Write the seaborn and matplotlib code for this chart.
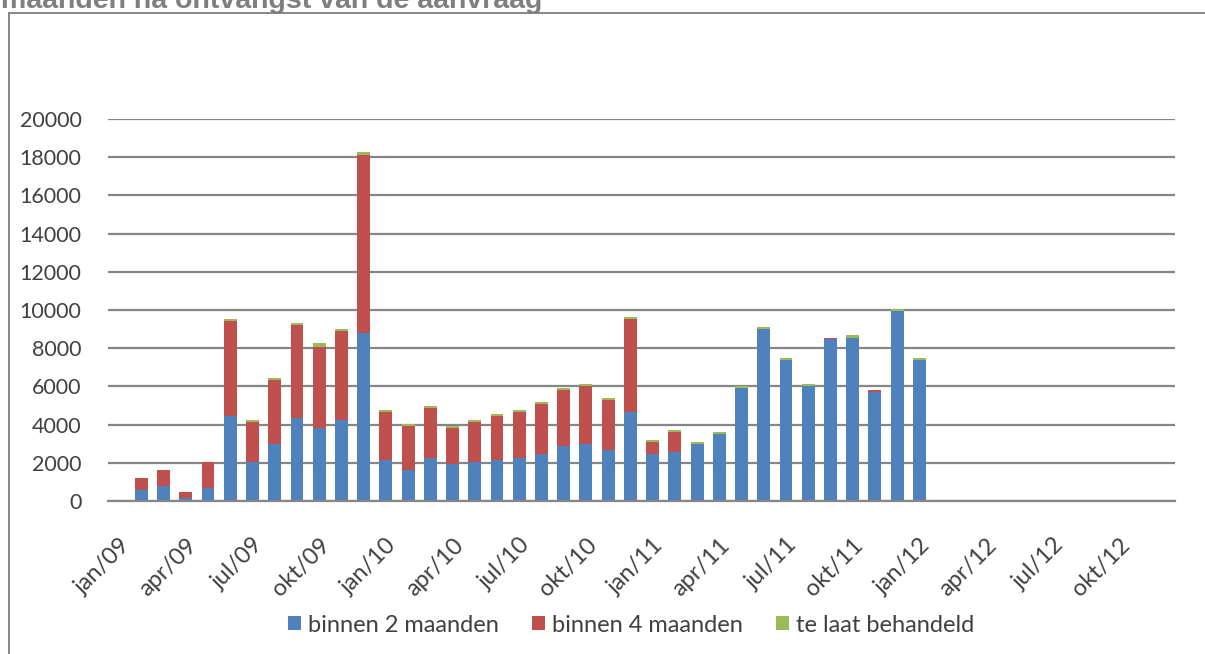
import matplotlib
matplotlib.use("Agg")
import matplotlib.pyplot as plt
from matplotlib.patches import Patch
from matplotlib.lines import Line2D
import seaborn as sns
import pandas as pd
import numpy as np

# maanden jan/09 .. dec/12
MAAND_NAMEN = ["jan", "feb", "mrt", "apr", "mei", "jun", "jul", "aug", "sep", "okt", "nov", "dec"]
JAREN = ["09", "10", "11", "12"]
maanden = [f"{m}/{j}" for j in JAREN for m in MAAND_NAMEN]

# gegevens lopen van feb/09 t/m jan/12
data_maanden = maanden[1:37]
binnen_2 = [560, 770, 140, 670, 4460, 2040, 2980, 4350, 3820, 4250, 8770, 2140,
            1610, 2250, 1930, 2040, 2140, 2250, 2460, 2880, 2980, 2670, 4670, 2460,
            2560, 2980, 3510, 5930, 8980, 7400, 6040, 8460, 8560, 5720, 9930, 7400]
binnen_4 = [630, 840, 320, 1370, 4940, 2100, 3370, 4840, 4220, 4630, 9370, 2530,
            2320, 2630, 1890, 2100, 2320, 2420, 2630, 2940, 3060, 2630, 4840, 630,
            1050, 0, 0, 0, 0, 0, 0, 100, 0, 100, 0, 0]
te_laat = [20, 20, 10, 20, 110, 110, 110, 110, 210, 100, 110, 100,
           110, 100, 110, 110, 100, 100, 100, 110, 100, 100, 100, 100,
           110, 110, 100, 110, 110, 110, 100, 0, 110, 0, 110, 110]

reeksen = ["binnen 2 maanden", "binnen 4 maanden", "te laat behandeld"]
kleuren = ["#4F81BD", "#C0504D", "#9BBB59"]

df = pd.DataFrame({"maand": data_maanden, "b2": binnen_2, "b4": binnen_4, "laat": te_laat})
df["top_b2"] = df["b2"]
df["top_b4"] = df["b2"] + df["b4"]
df["top_laat"] = df["top_b4"] + df["laat"]

tekst_kleur = "#404040"
grid_kleur = "#868686"
plt.rcParams["font.family"] = ["Lato", "DejaVu Sans"]

fig = plt.figure(figsize=(12.05, 6.54), dpi=100)
ax = fig.add_axes([108 / 1205, 1 - 501 / 654, (1175 - 108) / 1205, (501 - 119) / 654])

breedte = 0.58
# gestapeld: eerst totaal, dan de lagere lagen eroverheen
for kolom, kleur in zip(["top_laat", "top_b4", "top_b2"], kleuren[::-1]):
    sns.barplot(data=df, x="maand", y=kolom, order=maanden, color=kleur,
                width=breedte, errorbar=None, saturation=1, ax=ax, zorder=3)

ax.set_ylim(0, 20000)
ax.set_xlim(-0.5, len(maanden) - 0.5)
ax.set_yticks(np.arange(0, 20001, 2000))
ax.yaxis.grid(True, color=grid_kleur, linewidth=1.6)
ax.set_axisbelow(True)
for s in ["left", "right", "top"]:
    ax.spines[s].set_visible(False)
ax.spines["bottom"].set_color(grid_kleur)
ax.spines["bottom"].set_linewidth(1.6)
ax.spines["bottom"].set_zorder(4)

ax.set_xlabel("")
ax.set_ylabel("")
pos = list(range(0, len(maanden), 3))
ax.set_xticks(pos)
ax.set_xticklabels([maanden[i] for i in pos], rotation=45, ha="right",
                   rotation_mode="anchor", fontsize=17, color=tekst_kleur)
ax.tick_params(axis="x", length=0, pad=24)
ax.tick_params(axis="y", length=0, pad=19, labelsize=15.5, labelcolor=tekst_kleur)

handles = [Patch(facecolor=k, edgecolor="none") for k in kleuren]
fig.legend(handles, reeksen, loc="center", bbox_to_anchor=(631 / 1205, 1 - 625 / 654),
           ncol=3, frameon=False, fontsize=17, labelcolor=tekst_kleur,
           handlelength=0.55, handleheight=0.55, handletextpad=0.3, columnspacing=1.4)

# rand van het grafiekgebied (loopt buiten de uitsnede door)
fig.add_artist(Line2D([8.5 / 1205, 8.5 / 1205], [0, 1 - 12.5 / 654], color=grid_kleur, linewidth=1.4))
fig.add_artist(Line2D([8.5 / 1205, 1.0], [1 - 12.5 / 654, 1 - 12.5 / 654], color=grid_kleur, linewidth=1.4))

# titel valt grotendeels boven de uitsnede
fig.text(1 / 1205, 1 - 7.5 / 654, "maanden na ontvangst van de aanvraag", fontsize=20.5,
         fontweight="bold", family=["Liberation Sans", "DejaVu Sans"],
         color="#7F7F7F", va="baseline", ha="left")

fig.savefig("out.png", dpi=100, facecolor="white")
